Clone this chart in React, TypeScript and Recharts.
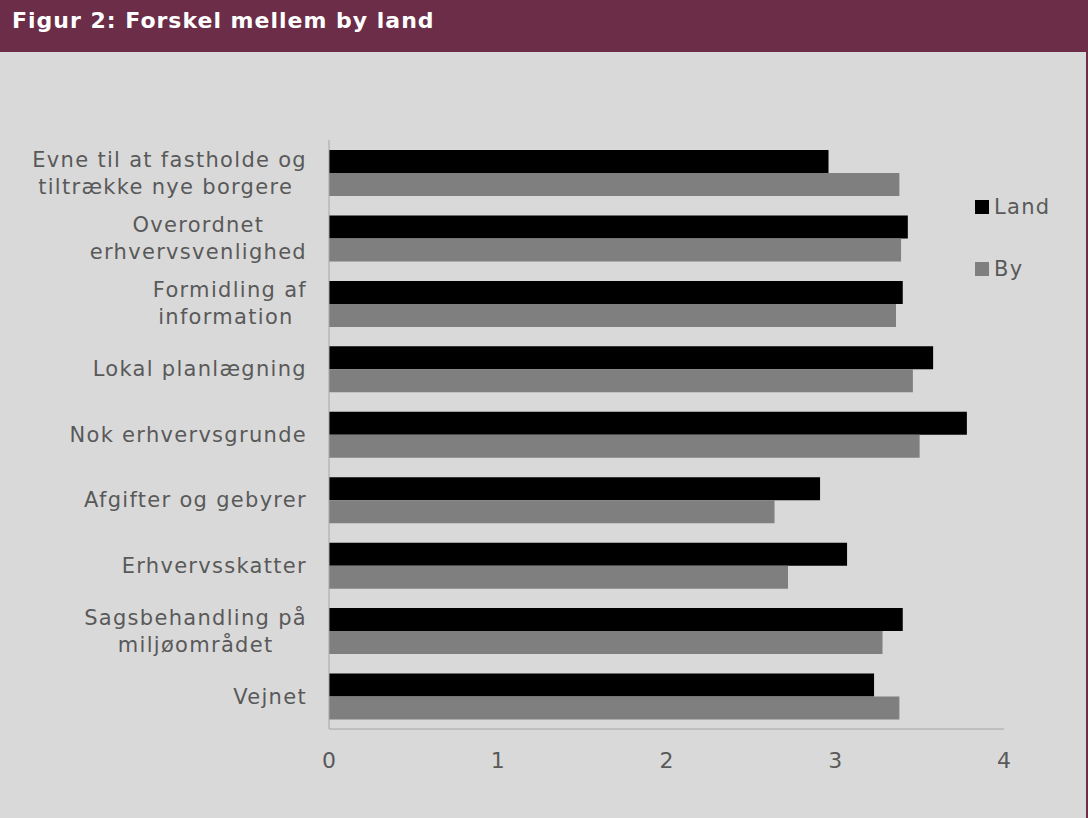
import { BarChart, Bar, XAxis, YAxis, Legend } from "recharts"

const categories = [
  "Evne til at fastholde og\ntiltrække nye borgere ",
  "Overordnet\nerhvervsvenlighed",
  "Formidling af\ninformation ",
  "Lokal planlægning",
  "Nok erhvervsgrunde",
  "Afgifter og gebyrer",
  "Erhvervsskatter",
  "Sagsbehandling på\nmiljøområdet",
  "Vejnet",
]
const land = [2.96, 3.43, 3.40, 3.58, 3.78, 2.91, 3.07, 3.40, 3.23]
const by = [3.38, 3.39, 3.36, 3.46, 3.50, 2.64, 2.72, 3.28, 3.38]
const xTicks = [0, 1, 2, 3, 4]
const seriesOrder = ["Land", "By"]

const data = categories.map((name, i) => ({ name, Land: land[i], By: by[i] }))

const FONT = "'DejaVu Sans', Verdana, sans-serif"
const TEXT = "#595959"
const LS = 1.3 // letter spacing to approximate Verdana's width

let ctx: CanvasRenderingContext2D | null = null
function measure(s: string) {
  if (!ctx) ctx = document.createElement("canvas").getContext("2d")
  if (!ctx) return s.length * 12.5
  ctx.font = "21px 'DejaVu Sans'"
  return ctx.measureText(s).width + s.length * LS
}

function CategoryTick(props: any) {
  const { x, y, payload } = props
  const lines: string[] = String(payload.value).split("\n")
  const maxW = Math.max(...lines.map(measure))
  const cx = x - maxW / 2
  return (
    <g>
      {lines.map((l, i) => (
        <text
          key={i}
          x={lines.length > 1 ? cx : x}
          y={y + (i - (lines.length - 1) / 2) * 27}
          dy="0.35em"
          textAnchor={lines.length > 1 ? "middle" : "end"}
          fill={TEXT}
          fontSize={21}
          fontFamily={FONT}
          letterSpacing={LS}
          style={{ whiteSpace: "pre" }}
        >
          {l}
        </text>
      ))}
    </g>
  )
}

function LegendBox(props: any) {
  const items = [...props.payload].sort(
    (a: any, b: any) => seriesOrder.indexOf(a.value) - seriesOrder.indexOf(b.value)
  )
  return (
    <div style={{ fontFamily: FONT, fontSize: 21, letterSpacing: LS, color: TEXT }}>
      {items.map((p: any, i: number) => (
        <div key={i} style={{ display: "flex", alignItems: "center", height: 28, marginBottom: i === 0 ? 34 : 0 }}>
          <span style={{ width: 14, height: 14, background: p.color, display: "inline-block", marginRight: 5 }} />
          <span>{p.value}</span>
        </div>
      ))}
    </div>
  )
}

export default function App() {
  return (
    <div
      style={{
        position: "absolute",
        left: 0,
        top: 0,
        width: 1088,
        height: 818,
        background: "#D9D9D9",
        boxSizing: "border-box",
        borderRight: "2px solid #6B2D48",
        overflow: "hidden",
      }}
    >
      <div
        style={{
          height: 52,
          boxSizing: "border-box",
          background: "#6B2D48",
          color: "#fff",
          fontFamily: FONT,
          fontWeight: "bold",
          fontSize: 22,
          letterSpacing: 1,
          lineHeight: "22px",
          paddingLeft: 12,
          paddingTop: 10,
        }}
      >
        Figur 2: Forskel mellem by land
      </div>
      <div style={{ position: "absolute", left: 0, top: 0 }}>
        <BarChart
          width={1088}
          height={818}
          data={data}
          layout="vertical"
          margin={{ top: 140, right: 84, bottom: 49, left: 0 }}
          barGap={0}
        >
          <XAxis
            type="number"
            domain={[0, 4]}
            ticks={xTicks}
            axisLine={{ stroke: "#A6A6A6" }}
            tickLine={false}
            tickMargin={17}
            height={40}
            tick={{ fill: TEXT, fontSize: 22, fontFamily: FONT }}
          />
          <YAxis
            type="category"
            dataKey="name"
            width={329}
            axisLine={{ stroke: "#A6A6A6" }}
            tickLine={false}
            tickMargin={16}
            interval={0}
            tick={<CategoryTick />}
          />
          <Legend
            layout="vertical"
            verticalAlign="middle"
            align="center"
            wrapperStyle={{ top: 193, left: 975, width: 110 }}
            content={<LegendBox />}
          />
          <Bar dataKey="Land" fill="#000000" barSize={23} isAnimationActive={false} />
          <Bar dataKey="By" fill="#7F7F7F" barSize={23} isAnimationActive={false} />
        </BarChart>
      </div>
    </div>
  )
}
